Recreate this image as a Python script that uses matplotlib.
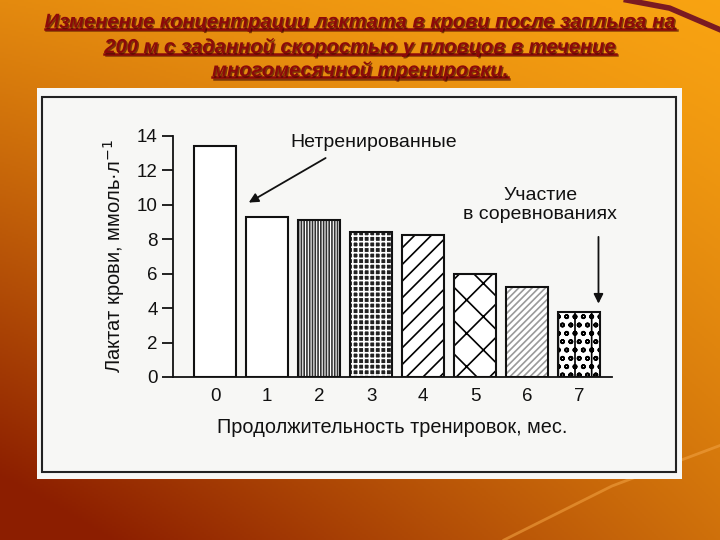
import numpy as np
import matplotlib.pyplot as plt
import matplotlib.patheffects as pe
from matplotlib.patches import Rectangle
from matplotlib.lines import Line2D

plt.rcParams['font.family'] = ['Liberation Sans', 'DejaVu Sans']
plt.rcParams['hatch.linewidth'] = 1.2

# Data
months = [0, 1, 2, 3, 4, 5, 6, 7]
lactate = [13.4, 9.3, 9.1, 8.45, 8.25, 6.0, 5.25, 3.75]
y_ticks = [0, 2, 4, 6, 8, 10, 12, 14]
hatches = ['', '', '||||||', '+++', '//', 'x', '/////', 'oo|']
hatch_colors = ['black', 'black', '#333333', 'white', 'black', 'black', '#9a9a9a', 'black']
face_colors = ['white', 'white', 'white', '#222222', 'white', 'white', 'white', 'white']

title_lines = ['Изменение концентрации лактата в крови после заплыва на',
               '200 м с заданной скоростью у пловцов в течение',
               'многомесячной тренировки.']

fig = plt.figure(figsize=(7.2, 5.4), dpi=100)

# Slide background (orange gradient, darker towards bottom-left)
bg = fig.add_axes([0, 0, 1, 1], zorder=-10)
xx, yy = np.meshgrid(np.linspace(0, 1, 360), np.linspace(0, 1, 270))
t = np.clip(0.25 * (1 - xx) + 0.45 * yy + 0.4 * yy * (1 - xx), 0, 1) ** 1.2
c_light = np.array([0.975, 0.64, 0.07])
c_dark = np.array([0.55, 0.12, 0.0])
img = c_light[None, None, :] * (1 - t[..., None]) + c_dark[None, None, :] * t[..., None]
bg.imshow(img, extent=[0, 1, 0, 1], aspect='auto', origin='upper')
bg.add_line(Line2D([0.87, 0.93, 1.0], [1.0, 0.985, 0.945], color='#7a1a22', lw=4))
bg.add_line(Line2D([0.70, 0.85, 1.0], [0.0, 0.10, 0.175], color='#f0a040', lw=2, alpha=0.6))
bg.set_xlim(0, 1)
bg.set_ylim(0, 1)
bg.axis('off')

# White scanned panel and its frame
fig.patches.append(Rectangle((0.0514, 0.113), 0.896, 0.724, transform=fig.transFigure,
                             facecolor='#f7f7f5', edgecolor='none', zorder=-5))
fig.patches.append(Rectangle((0.0583, 0.126), 0.881, 0.694, transform=fig.transFigure,
                             facecolor='none', edgecolor='#222222', lw=1.5, zorder=-4))

# Title
title_y = [0.959, 0.913, 0.870]
title_texts = []
for line, y in zip(title_lines, title_y):
    tt = fig.text(0.5, y, line, ha='center', va='center', fontsize=14.5,
                  fontweight='bold', fontstyle='italic', color='#8b0a0a',
                  path_effects=[pe.SimplePatchShadow(offset=(1, -1), shadow_rgbFace='#3a0000', alpha=0.6),
                                pe.Normal()])
    title_texts.append(tt)

# Chart
ink = '#111111'
ax = fig.add_axes([0.2403, 0.3019, 0.6097, 0.4463])
ax.patch.set_alpha(0)
ax.bar(months, lactate, width=0.8, color=face_colors, edgecolor=hatch_colors,
       hatch=hatches, linewidth=0, zorder=2)
ax.bar(months, lactate, width=0.8, fill=False, edgecolor=ink, linewidth=1.5, zorder=3)

ax.set_xlim(-0.81, 7.63)
ax.set_ylim(0, 14)
ax.set_yticks(y_ticks)
ax.set_xticks(months)
ax.tick_params(axis='y', direction='out', length=8, width=1.3, labelsize=13.5,
               colors=ink, pad=3)
ax.tick_params(axis='x', length=0, labelsize=13.5, colors=ink, pad=8)
for s in ['top', 'right']:
    ax.spines[s].set_visible(False)
for s in ['left', 'bottom']:
    ax.spines[s].set_linewidth(1.3)
    ax.spines[s].set_color(ink)

ax.set_xlabel('Продолжительность тренировок, мес.', fontsize=14.3, color=ink, labelpad=9)
ax.set_ylabel('Лактат крови, ммоль·л$^{-1}$', fontsize=14.5, color=ink, labelpad=7)

ax.annotate('Нетренированные', xy=(0.6, 10.05), xytext=(3.05, 13.6), fontsize=14,
            ha='center', va='center', color=ink, annotation_clip=False)
ax.annotate('', xy=(0.6, 10.05), xytext=(2.17, 12.8), annotation_clip=False,
            arrowprops=dict(arrowstyle='-|>', color=ink, lw=1.3, mutation_scale=14))
ax.text(6.25, 10.0, 'Участие\nв соревнованиях', fontsize=14, ha='center', va='center',
        color=ink, linespacing=1.15)
ax.annotate('', xy=(7.37, 4.1), xytext=(7.37, 8.3), annotation_clip=False,
            arrowprops=dict(arrowstyle='-|>', color=ink, lw=1.3, mutation_scale=14))

# Underline the title lines
fig.canvas.draw()
renderer = fig.canvas.get_renderer()
for tt in title_texts:
    bb = tt.get_window_extent(renderer=renderer)
    x0, x1 = bb.x0 / 720, bb.x1 / 720
    yl = (bb.y0 + 3) / 540
    fig.add_artist(Line2D([x0, x1], [yl, yl], transform=fig.transFigure, color='#8b0a0a', lw=1.8,
                          path_effects=[pe.SimpleLineShadow(offset=(1, -1), shadow_color='#3a0000', alpha=0.6),
                                        pe.Normal()]))

fig.savefig('out.png', dpi=100)
